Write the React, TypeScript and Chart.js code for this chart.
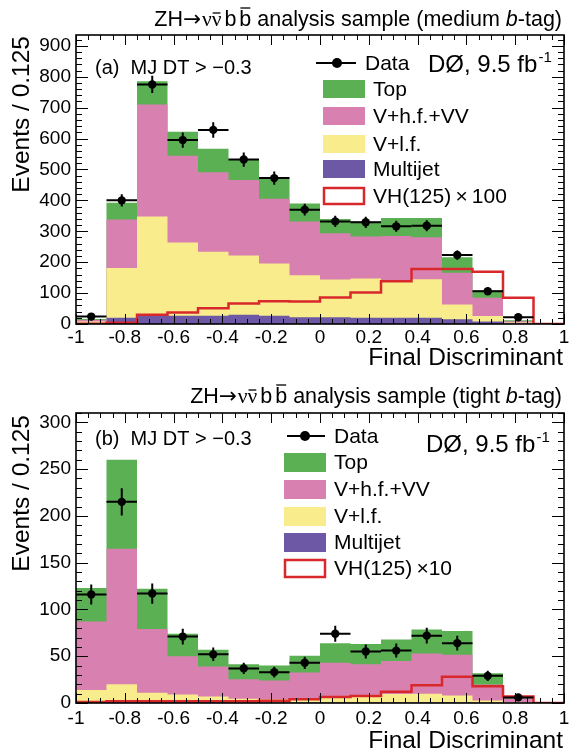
import React, { useEffect, useRef } from "react";
import { Chart, registerables } from "chart.js";
Chart.register(...registerables);

// ---------- data ----------
const binEdges = [-1, -0.875, -0.75, -0.625, -0.5, -0.375, -0.25, -0.125, 0, 0.125, 0.25, 0.375, 0.5, 0.625, 0.75, 0.875, 1];

// (a) medium b-tag
const mediumMultijet = [1, 20, 30, 27, 27, 30, 27, 22, 22, 20, 20, 20, 15, 8, 2, 0];
const mediumVlf = [7, 161, 318, 237, 207, 192, 169, 136, 122, 127, 122, 125, 48, 18, 3, 0];
const mediumVhf = [5, 157, 362, 280, 257, 244, 209, 174, 150, 136, 143, 136, 103, 59, 4, 0];
const mediumTop = [3, 54, 75, 78, 76, 68, 65, 58, 46, 49, 58, 62, 50, 24, 3, 0];
const mediumData = [24, 400, 775, 595, 628, 532, 472, 370, 332, 329, 316, 318, 223, 106, 22, null];
const mediumSignal = [1, 4, 30, 37, 51, 66, 74, 73, 86, 102, 138, 178, 178, 169, 85, 0];
const mediumYTicks = [0, 100, 200, 300, 400, 500, 600, 700, 800, 900];

// (b) tight b-tag
const tightMultijet = [1, 2, 1, 1, 1, 0.5, 0.5, 0.5, 0.5, 0.5, 0.5, 0.5, 0.5, 0.3, 0.2, 0];
const tightVlf = [13, 18, 10, 8, 6, 4, 3.5, 4, 6, 7.5, 9, 9.5, 7.5, 2.5, 1, 0];
const tightVhf = [73, 145, 68, 41, 32, 21, 20, 28, 36.5, 33.5, 35.5, 43, 43.5, 17, 3.5, 0];
const tightTop = [36, 95, 43, 24, 18, 16, 16, 18, 21, 21.5, 23, 25.6, 25.5, 12, 1.5, 0];
const tightData = [116, 215, 117, 71, 52, 37, 33, 43, 74, 55, 56, 72, 64, 29, 6, null];
const tightSignal = [1, 2, 2, 2, 2, 2, 2.5, 4, 6.4, 7.5, 12, 19, 28, 18, 7, 0];
const tightYTicks = [0, 50, 100, 150, 200, 250, 300];

const xTicks = [-1, -0.8, -0.6, -0.4, -0.2, 0, 0.2, 0.4, 0.6, 0.8, 1];
const legendLabels = ["Top", "V+h.f.+VV", "V+l.f.", "Multijet"];

// ---------- style ----------
const C_TOP = "#5cb054";
const C_VHF = "#d880b0";
const C_VLF = "#f8ec8c";
const C_MJ = "#6c58a4";
const C_SIG = "#d8282c";
const SANS = "'Liberation Sans', Arial, sans-serif";
const SERIF = "'Liberation Serif', 'DejaVu Serif', serif";

type Seg = { t: string; f: string; over?: number; sup?: boolean; gap?: number };

function drawRich(ctx: CanvasRenderingContext2D, segs: Seg[], x: number, base: number, align: "left" | "right") {
  let total = 0;
  const widths = segs.map((s) => {
    ctx.font = s.f;
    const w = ctx.measureText(s.t).width + (s.gap || 0);
    total += w;
    return w;
  });
  let cx = align === "right" ? x - total : x;
  ctx.textAlign = "left";
  ctx.textBaseline = "alphabetic";
  segs.forEach((s, i) => {
    ctx.font = s.f;
    const y = s.sup ? base - 10 : base;
    ctx.fillText(s.t, cx, y);
    if (s.over) {
      const w = ctx.measureText(s.t).width;
      ctx.beginPath();
      ctx.lineWidth = 1.3;
      ctx.moveTo(cx + 1, y - s.over);
      ctx.lineTo(cx + w - 1, y - s.over);
      ctx.stroke();
    }
    cx += widths[i];
  });
}

function stepPoints(vals: number[]) {
  const pts = vals.map((v, i) => ({ x: binEdges[i], y: v }));
  pts.push({ x: binEdges[binEdges.length - 1], y: vals[vals.length - 1] });
  return pts;
}

function cumulative(...arrs: number[][]) {
  const out: number[][] = [];
  let run = arrs[0].map(() => 0);
  arrs.forEach((a) => {
    run = run.map((v, i) => v + a[i]);
    out.push(run);
  });
  return out;
}

type PanelCfg = {
  multijet: number[];
  vlf: number[];
  vhf: number[];
  top: number[];
  data: (number | null)[];
  signal: number[];
  yTicks: number[];
  yMax: number;
  yMinor: number;
  yMajor: number;
  tag: string;
  panel: string;
  sigLabel: string;
  pad: { left: number; right: number; top: number; bottom: number };
  titleBase: number;
  yTitleEnd: number;
  xLabelY: number;
  xTitleBase: number;
  panelLabel: { x: number; base: number };
  dataLeg: { x1: number; x2: number; mx: number; y: number; tx: number };
  dzero: { x: number; base: number };
  boxes: { x: number; w: number; h: number; tops: number[]; tx: number };
};

const mediumCfg: PanelCfg = {
  multijet: mediumMultijet,
  vlf: mediumVlf,
  vhf: mediumVhf,
  top: mediumTop,
  data: mediumData,
  signal: mediumSignal,
  yTicks: mediumYTicks,
  yMax: 935,
  yMinor: 20,
  yMajor: 100,
  tag: "medium",
  panel: "(a)",
  sigLabel: "VH(125)\u2009\u00d7\u2009100",
  pad: { left: 76, right: 6, top: 35, bottom: 52 },
  titleBase: 26,
  yTitleEnd: 36,
  xLabelY: 338,
  xTitleBase: 365,
  panelLabel: { x: 95, base: 74 },
  dataLeg: { x1: 316, x2: 356, mx: 337, y: 63, tx: 365 },
  dzero: { x: 428, base: 72 },
  boxes: { x: 323, w: 42, h: 18, tops: [80, 107, 135, 160, 187], tx: 373 },
};

const tightCfg: PanelCfg = {
  multijet: tightMultijet,
  vlf: tightVlf,
  vhf: tightVhf,
  top: tightTop,
  data: tightData,
  signal: tightSignal,
  yTicks: tightYTicks,
  yMax: 310,
  yMinor: 10,
  yMajor: 50,
  tag: "tight",
  panel: "(b)",
  sigLabel: "VH(125)\u2009\u00d710",
  pad: { left: 76, right: 6, top: 37, bottom: 49 },
  titleBase: 27,
  yTitleEnd: 39,
  xLabelY: 343,
  xTitleBase: 372,
  panelLabel: { x: 95, base: 69 },
  dataLeg: { x1: 287, x2: 325, mx: 305, y: 60, tx: 334 },
  dzero: { x: 426, base: 76 },
  boxes: { x: 284, w: 42, h: 19, tops: [77, 104, 131, 157, 183], tx: 334 },
};

function Panel({ cfg }: { cfg: PanelCfg }) {
  const ref = useRef<HTMLCanvasElement | null>(null);
  useEffect(() => {
    const [c1, c2, c3, c4] = cumulative(cfg.multijet, cfg.vlf, cfg.vhf, cfg.top);
    const centers = binEdges.slice(0, -1).map((e, i) => (e + binEdges[i + 1]) / 2);
    const dataPts = cfg.data
      .map((v, i) => (v == null ? null : { x: centers[i], y: v }))
      .filter((p) => p !== null);

    const fillDs = (label: string, vals: number[], color: string, order: number) => ({
      type: "line" as const,
      label,
      data: stepPoints(vals),
      stepped: true,
      fill: "origin",
      backgroundColor: color,
      borderColor: "rgba(0,0,0,0)",
      borderWidth: 0,
      pointRadius: 0,
      order,
    });

    const decor = {
      id: "decor",
      afterDatasetsDraw(chart: any) {
        const { ctx, scales } = chart;
        const xs = scales.x;
        const ys = scales.y;
        ctx.save();
        ctx.strokeStyle = "#000";
        ctx.lineWidth = 2;
        cfg.data.forEach((v, i) => {
          if (v == null) return;
          const xl = xs.getPixelForValue(binEdges[i]);
          const xr = xs.getPixelForValue(binEdges[i + 1]);
          const xc = xs.getPixelForValue(centers[i]);
          const yc = ys.getPixelForValue(v);
          const err = Math.sqrt(v);
          ctx.beginPath();
          ctx.moveTo(xl, yc);
          ctx.lineTo(xr, yc);
          ctx.moveTo(xc, ys.getPixelForValue(v + err));
          ctx.lineTo(xc, ys.getPixelForValue(Math.max(0, v - err)));
          ctx.stroke();
        });
        ctx.restore();
      },
      afterDraw(chart: any) {
        const { ctx, chartArea: a, scales } = chart;
        const xs = scales.x;
        const ys = scales.y;
        ctx.save();
        ctx.fillStyle = "#000";
        ctx.strokeStyle = "#000";
        const seg = (x1: number, y1: number, x2: number, y2: number) => {
          ctx.beginPath();
          ctx.moveTo(x1, y1);
          ctx.lineTo(x2, y2);
          ctx.stroke();
        };
        // x ticks (major 0.2, minor 0.05)
        ctx.lineWidth = 1;
        for (let k = 0; k <= 40; k++) {
          const v = -1 + k * 0.05;
          const px = Math.round(xs.getPixelForValue(v)) + 0.5;
          const len = k % 4 === 0 ? 10 : 5;
          seg(px, a.bottom, px, a.bottom - len);
          seg(px, a.top, px, a.top + len);
        }
        // y ticks
        const nMinor = Math.floor(cfg.yMax / cfg.yMinor);
        for (let j = 0; j <= nMinor; j++) {
          const v = j * cfg.yMinor;
          const major = v % cfg.yMajor === 0;
          const len = major ? 12 : 6;
          const py = Math.round(ys.getPixelForValue(v)) + 0.5;
          seg(a.left, py, a.left + len, py);
          seg(a.right, py, a.right - len, py);
        }
        // frame
        ctx.lineWidth = 1.6;
        ctx.strokeRect(a.left, a.top, a.right - a.left, a.bottom - a.top);

        // tick labels
        ctx.font = `19px ${SANS}`;
        ctx.textBaseline = "middle";
        ctx.textAlign = "right";
        cfg.yTicks.forEach((v) => ctx.fillText(String(v), a.left - 5, ys.getPixelForValue(v)));
        ctx.textAlign = "center";
        xTicks.forEach((v) => ctx.fillText(v === 0 ? "0" : String(v), xs.getPixelForValue(v), cfg.xLabelY));

        // axis titles
        ctx.font = `24.5px ${SANS}`;
        ctx.textBaseline = "alphabetic";
        ctx.textAlign = "right";
        ctx.fillText("Final Discriminant", a.right - 1, cfg.xTitleBase);
        ctx.save();
        ctx.translate(29, cfg.yTitleEnd);
        ctx.rotate(-Math.PI / 2);
        ctx.textAlign = "right";
        ctx.fillText("Events / 0.125", 0, 0);
        ctx.restore();

        // panel title
        const f21 = `21.5px ${SANS}`;
        const s21 = `21.5px ${SERIF}`;
        drawRich(
          ctx,
          [
            { t: "ZH", f: f21 },
            { t: "\u2192", f: `21.5px 'DejaVu Sans', sans-serif`, gap: 1 },
            { t: "\u03bd", f: s21 },
            { t: "\u03bd", f: s21, over: 13, gap: 3 },
            { t: "b", f: f21, gap: 3 },
            { t: "b", f: f21, over: 18 },
            { t: ` analysis sample (${cfg.tag} `, f: f21 },
            { t: "b", f: `italic 21.5px ${SANS}` },
            { t: "-tag)", f: f21 },
          ],
          a.right - 2,
          cfg.titleBase,
          "right"
        );

        // panel label
        ctx.font = `20px ${SANS}`;
        ctx.textAlign = "left";
        ctx.fillText(`${cfg.panel}  MJ DT > \u22120.3`, cfg.panelLabel.x, cfg.panelLabel.base);

        // Data legend
        const d = cfg.dataLeg;
        ctx.lineWidth = 2;
        seg(d.x1, d.y, d.x2, d.y);
        ctx.beginPath();
        ctx.arc(d.mx, d.y, 5, 0, Math.PI * 2);
        ctx.fill();
        ctx.font = `21px ${SANS}`;
        ctx.textBaseline = "middle";
        ctx.fillText("Data", d.tx, d.y + 1);

        // DØ
        ctx.textBaseline = "alphabetic";
        drawRich(
          ctx,
          [
            { t: "D\u00d8, 9.5 fb", f: `24px ${SANS}`, gap: 1 },
            { t: "-1", f: `15px ${SANS}`, sup: true },
          ],
          cfg.dzero.x,
          cfg.dzero.base,
          "left"
        );

        // boxes
        const b = cfg.boxes;
        const colors = [C_TOP, C_VHF, C_VLF, C_MJ];
        ctx.font = `21px ${SANS}`;
        ctx.textBaseline = "middle";
        ctx.textAlign = "left";
        colors.forEach((c, i) => {
          ctx.fillStyle = c;
          ctx.fillRect(b.x, b.tops[i], b.w, b.h);
          ctx.fillStyle = "#000";
          ctx.fillText(legendLabels[i], b.tx, b.tops[i] + b.h / 2 + 1);
        });
        ctx.fillStyle = "#fff";
        ctx.fillRect(b.x, b.tops[4], b.w, b.h);
        ctx.strokeStyle = C_SIG;
        ctx.lineWidth = 2.5;
        ctx.strokeRect(b.x + 1, b.tops[4] + 1, b.w - 2, b.h - 2);
        ctx.fillStyle = "#000";
        ctx.fillText(cfg.sigLabel, b.tx, b.tops[4] + b.h / 2 + 1);
        ctx.restore();
      },
    };

    const chart = new Chart(ref.current as HTMLCanvasElement, {
      type: "line",
      data: {
        datasets: [
          {
            type: "line",
            label: "Data",
            data: dataPts as any,
            showLine: false,
            pointRadius: 4.2,
            pointBackgroundColor: "#000",
            pointBorderColor: "#000",
            pointBorderWidth: 0,
            order: 0,
          },
          {
            type: "line",
            label: cfg.sigLabel,
            data: stepPoints(cfg.signal),
            stepped: true,
            fill: false,
            borderColor: C_SIG,
            borderWidth: 2.5,
            pointRadius: 0,
            order: 1,
          },
          fillDs("Multijet", c1, C_MJ, 2),
          fillDs("V+l.f.", c2, C_VLF, 3),
          fillDs("V+h.f.+VV", c3, C_VHF, 4),
          fillDs("Top", c4, C_TOP, 5),
        ] as any,
      },
      options: {
        animation: false,
        responsive: false,
        devicePixelRatio: 1,
        events: [],
        layout: { padding: cfg.pad },
        scales: {
          x: { type: "linear", min: -1, max: 1, display: false },
          y: { type: "linear", min: 0, max: cfg.yMax, display: false },
        },
        plugins: {
          legend: { display: false },
          tooltip: { enabled: false },
          title: { display: false },
        },
      },
      plugins: [decor],
    });
    return () => chart.destroy();
  }, [cfg]);
  return <canvas ref={ref} width={570} height={376} style={{ display: "block", width: 570, height: 376 }} />;
}

export default function App() {
  return (
    <div style={{ position: "absolute", left: 0, top: 0, width: 570, height: 752, background: "#fff" }}>
      <Panel cfg={mediumCfg} />
      <Panel cfg={tightCfg} />
    </div>
  );
}
